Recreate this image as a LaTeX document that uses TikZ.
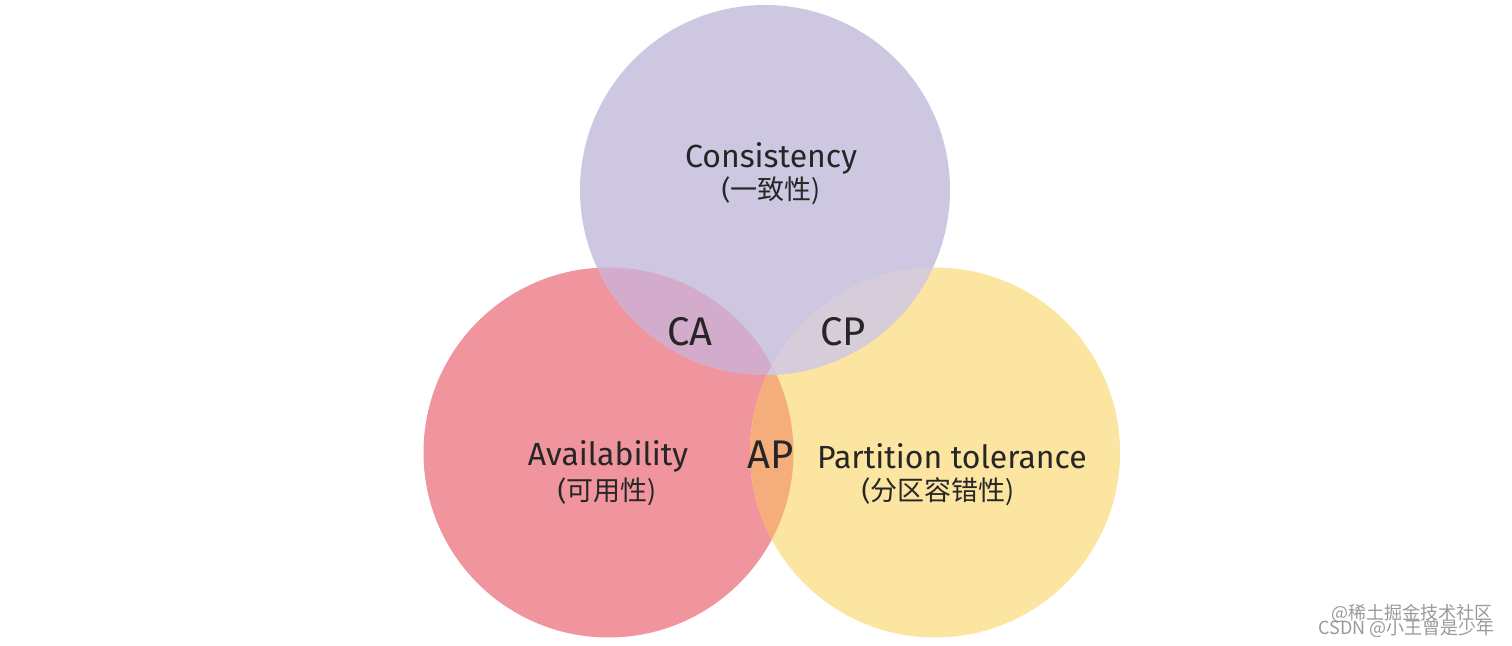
\documentclass[tikz,border=0pt]{standalone}
\usepackage{fontspec}
\setmainfont{Fira Sans}
\newfontfamily\cjk{Noto Sans CJK SC}
\definecolor{cpurple}{HTML}{CEC7E2}
\definecolor{cred}{HTML}{F0949E}
\definecolor{cyellow}{HTML}{FBE5A1}
\definecolor{corange}{HTML}{F5AE7B}
\definecolor{cca}{HTML}{D3ABCB}
\definecolor{ccp}{HTML}{D7CCDA}
\definecolor{ccenter}{HTML}{D2C5DB}
\definecolor{cmark}{HTML}{9A9A9A}
\tikzset{
  label/.style={font=\fontsize{16}{18}\selectfont, text=black!85, align=center, inner sep=0pt},
  sublabel/.style={font=\fontsize{13.5}{16}\selectfont, text=black!85, align=center, inner sep=0pt},
  pair/.style={font=\fontsize{20}{22}\selectfont, text=black!85, inner sep=0pt},
  wmark/.style={font=\fontsize{9}{10}\selectfont\cjk, text=cmark, inner sep=0pt, anchor=east}
}
\begin{document}
\begin{tikzpicture}[x=0.5pt,y=-0.5pt]
\useasboundingbox[fill=white] (0,0) rectangle (1512,646);
\def\R{185}
\coordinate (C) at (765,190);
\coordinate (A) at (608.5,452.5);
\coordinate (P) at (935,452.5);
% base circles
\fill[cred] (A) circle[radius=\R];
\fill[cyellow] (P) circle[radius=\R];
\begin{scope}
  \clip (A) circle[radius=\R];
  \fill[corange] (P) circle[radius=\R];
\end{scope}
\fill[cpurple] (C) circle[radius=\R];
\begin{scope}
  \clip (C) circle[radius=\R];
  \fill[cca] (A) circle[radius=\R];
  \fill[ccp] (P) circle[radius=\R];
  \clip (A) circle[radius=\R];
  \fill[ccenter] (P) circle[radius=\R];
\end{scope}
% labels
\node[label] (cons) at (771,158) {Consistency};
\node[sublabel] (consz) at (771,191) {(\cjk 一致性)};
\node[label] (avail) at (608,456) {Availability};
\node[sublabel] (availz) at (607,492) {(\cjk 可用性)};
\node[label] (part) at (952,456) {Partition tolerance};
\node[sublabel] (partz) at (938,492) {(\cjk 分区容错性)};
\node[pair] (ca) at (690,332) {CA};
\node[pair] (cp) at (843,332) {CP};
\node[pair] (ap) at (771,455) {AP};
% watermarks
\node[wmark] (wm1) at (1493,613) {@稀土掘金技术社区};
\node[wmark] (wm2) at (1495,628) {CSDN @小王曾是少年};
\end{tikzpicture}
\end{document}
